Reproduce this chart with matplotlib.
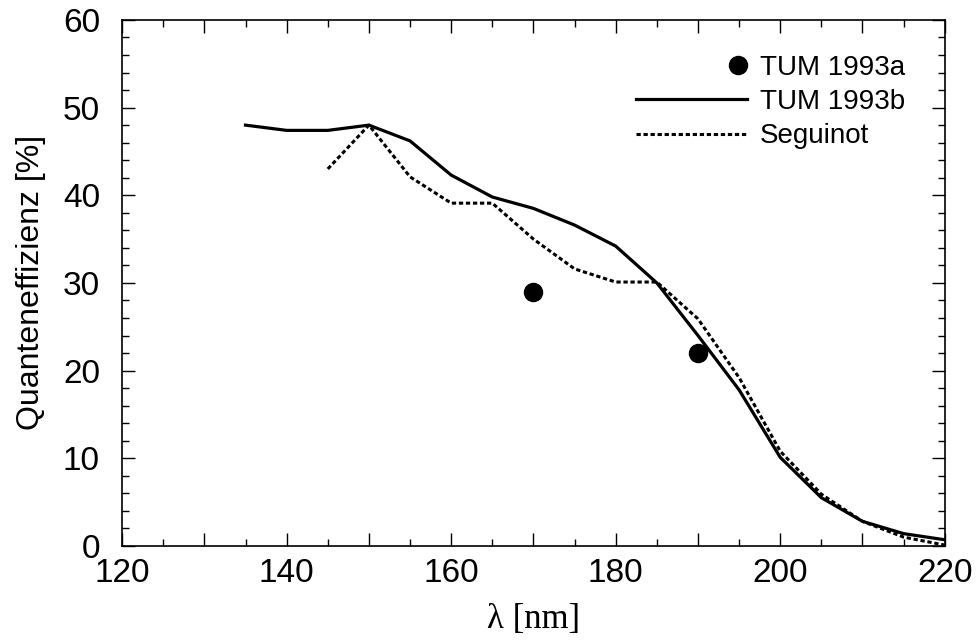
import numpy as np
import matplotlib.pyplot as plt
from matplotlib.ticker import MultipleLocator
from matplotlib.legend_handler import HandlerLine2D

# TUM 1993a: single measurements
lam_a = [170, 190]
qe_a = [29.0, 22.0]

# TUM 1993b
lam_b = [135, 140, 145, 150, 155, 160, 165, 170, 175, 180, 185, 190, 195, 200, 205, 210, 215, 220]
qe_b = [48.0, 47.4, 47.4, 48.0, 46.2, 42.3, 39.8, 38.5, 36.6, 34.2, 30.0, 24.0, 17.8, 10.1, 5.5, 2.8, 1.4, 0.7]

# Seguinot
lam_s = [145, 150, 155, 160, 165, 170, 175, 180, 185, 190, 195, 200, 205, 210, 215, 220]
qe_s = [43.0, 48.0, 42.1, 39.1, 39.1, 35.0, 31.6, 30.1, 30.1, 25.9, 19.2, 10.8, 5.9, 2.8, 1.0, 0.1]


class RightMarker(HandlerLine2D):
    # put the legend marker at the right end of the handle, next to the text
    def create_artists(self, legend, orig_handle, xdescent, ydescent, width, height, fontsize, trans):
        arts = super().create_artists(legend, orig_handle, xdescent, ydescent, width, height, fontsize, trans)
        for a in arts:
            if a.get_marker() not in (None, 'None', ''):
                a.set_xdata([width - xdescent - 7])
        return arts


plt.rcParams['font.family'] = ['Liberation Sans', 'DejaVu Sans']

fig = plt.figure(figsize=(9.77, 6.43), dpi=100)
ax = fig.add_axes([0.125, 0.151, 0.842, 0.818])

pts, = ax.plot(lam_a, qe_a, 'o', color='black', markersize=13, label='TUM 1993a')
ax.plot(lam_b, qe_b, '-', color='black', lw=2.3, label='TUM 1993b')
ax.plot(lam_s, qe_s, color='black', lw=2.2, dashes=(1.4, 0.9), label='Seguinot')

ax.set_xlim(120, 220)
ax.set_ylim(0, 60)
ax.xaxis.set_minor_locator(MultipleLocator(5))
ax.yaxis.set_major_locator(MultipleLocator(10))
ax.yaxis.set_minor_locator(MultipleLocator(2))
ax.set_xticks(np.arange(120, 221, 10))
ax.set_xticklabels([str(v) if v % 20 == 0 else '' for v in range(120, 221, 10)])

ax.tick_params(which='both', direction='in', top=True, right=True, labelsize=24, width=1.0)
ax.tick_params(which='major', length=9.5)
ax.tick_params(which='minor', length=5)
ax.tick_params(axis='y', which='major', pad=16)
ax.tick_params(axis='x', which='major', pad=9)
for s in ax.spines.values():
    s.set_linewidth(1.2)

ax.set_ylabel('Quanteneffizienz [%]', fontsize=23, labelpad=12)
ax.set_xlabel('λ [nm]', fontsize=25, family=['Liberation Serif', 'DejaVu Serif'], labelpad=10)

leg = ax.legend(loc='upper right', frameon=False, fontsize=20, numpoints=1,
                handlelength=4.0, handletextpad=0.45, labelspacing=0.3,
                borderaxespad=0.0, bbox_to_anchor=(0.965, 0.955),
                handler_map={pts: RightMarker()})

fig.savefig('out.png', dpi=100)
